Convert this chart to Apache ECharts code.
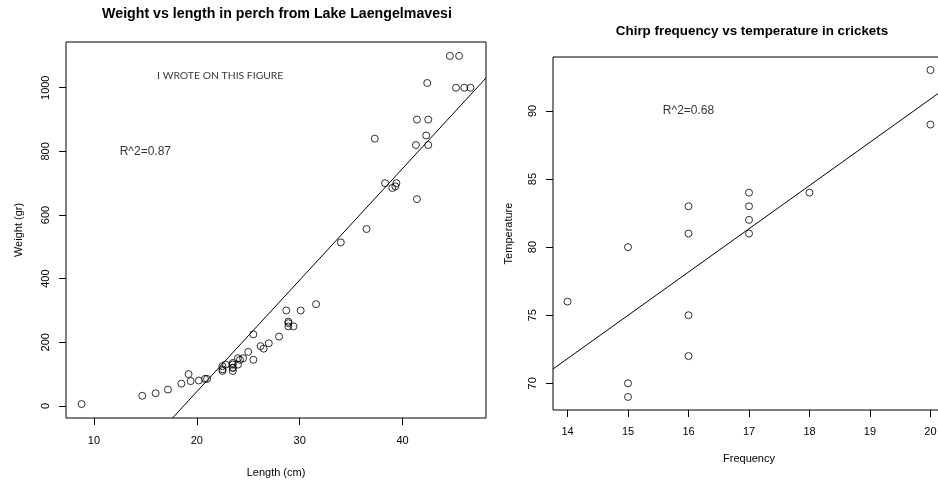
<!DOCTYPE html>
<html><head><meta charset="utf-8">
<script src="https://cdn.jsdelivr.net/npm/echarts@6/dist/echarts.min.js"></script>
<style>html,body{margin:0;padding:0;background:#fff;overflow:hidden;width:938px;height:480px}#c{width:960px;height:480px}</style>
</head><body><div id="c"></div>
<script>
// ---- Perch data (Lake Laengelmavesi) ----
const perchLength = [8.8,14.7,16.0,17.2,18.5,19.2,19.4,20.2,20.8,21.0,22.5,22.5,22.5,22.8,23.5,23.5,23.5,23.5,23.5,24.0,24.0,24.2,24.5,25.0,25.5,25.5,26.2,26.5,27.0,28.0,28.7,28.9,28.9,28.9,29.4,30.1,31.6,34.0,36.5,37.3,39.0,38.3,39.4,39.3,41.4,41.4,41.3,42.3,42.5,42.4,42.5,44.6,45.2,45.5,46.0,46.6];
const perchWeight = [5.9,32,40,51.5,70,100,78,80,85,85,110,115,125,130,120,120,130,135,110,130,150,145,150,170,225,145,188,180,197,218,300,260,265,250,250,300,320,514,556,840,685,700,700,690,900,650,820,850,900,1015,820,1100,1000,1100,1000,1000];
const perchFitX = [17.64, 48.11];
const perchFitY = [-37.9, 1030.5];
const perchXRange = [7.288, 48.112];
const perchYRange = [-37.864, 1143.764];
const perchXTicks = [10,20,30,40];
const perchYTicks = [0,200,400,600,800,1000];
const perchNotes = ['I WROTE ON THIS FIGURE', 'R^2=0.87'];
const perchNoteX = [22.28, 15];
const perchNoteY = [1038, 800];

// ---- Cricket data ----
const chirpFrequency = [14,15,15,15,16,16,16,16,17,17,17,17,18,20,20];
const chirpTemperature = [76,80,70,69,83,81,75,72,84,83,82,81,84,93,89];
const chirpFitX = [13.76, 20.24];
const chirpFitY = [71.05, 91.64];
const chirpXRange = [13.76, 20.24];
const chirpYRange = [68.04, 93.96];
const chirpXTicks = [14,15,16,17,18,19,20];
const chirpYTicks = [70,75,80,85,90];
const chirpNotes = ['R^2=0.68'];
const chirpNoteX = [16];
const chirpNoteY = [90];

const FONT = 'Liberation Sans';
const zip = (a, b) => a.map((v, i) => [v, b[i]]);

function makeAxis(range, ticks, name, gridIndex, isY, nameGap, margin) {
  return {
    type: 'value', gridIndex, min: range[0], max: range[1],
    name, nameLocation: 'middle', nameGap,
    nameTextStyle: { fontFamily: FONT, fontSize: 11, color: '#000' },
    axisLine: { show: false, onZero: false },
    axisTick: { show: true, length: 7, inside: false, customValues: ticks, lineStyle: { color: '#000', width: 1 } },
    axisLabel: { show: true, customValues: ticks, margin, fontFamily: FONT, fontSize: 11, color: '#000',
      rotate: isY ? 90 : 0, formatter: v => String(v) },
    splitLine: { show: false }
  };
}

const hollow = { color: 'rgba(0,0,0,0)', borderColor: '#000', borderWidth: 1 };

function noteSeries(xi, texts, xs, ys, font, size) {
  return {
    type: 'scatter', xAxisIndex: xi, yAxisIndex: xi, silent: true, symbolSize: 0,
    data: texts.map((t, i) => ({ value: [xs[i], ys[i]], name: t })),
    label: { show: true, position: 'inside', formatter: p => p.name, color: '#000', fontFamily: font, fontSize: size }
  };
}

const chart = echarts.init(document.getElementById('c'), null, { renderer: 'canvas' });
chart.setOption({
  animation: false,
  backgroundColor: '#fff',
  title: [
    { text: 'Weight vs length in perch from Lake Laengelmavesi', left: 272, top: 2, textAlign: 'center',
      textStyle: { fontFamily: FONT, fontWeight: 'bold', fontSize: 14.2, color: '#000' } },
    { text: 'Chirp frequency vs temperature in crickets', left: 747, top: 20, textAlign: 'center',
      textStyle: { fontFamily: FONT, fontWeight: 'bold', fontSize: 13.4, color: '#000' } }
  ],
  grid: [
    { left: 66, top: 42, width: 420, height: 376, show: true, borderColor: '#000', borderWidth: 1, backgroundColor: 'transparent', outerBoundsMode: 'none', containLabel: false },
    { left: 553, top: 57, width: 392, height: 353, show: true, borderColor: '#000', borderWidth: 1, backgroundColor: 'transparent', outerBoundsMode: 'none', containLabel: false }
  ],
  xAxis: [
    makeAxis(perchXRange, perchXTicks, 'Length (cm)', 0, false, 49, 17),
    makeAxis(chirpXRange, chirpXTicks, 'Frequency', 1, false, 43, 16.5)
  ],
  yAxis: [
    makeAxis(perchYRange, perchYTicks, 'Weight (gr)', 0, true, 42, 15),
    makeAxis(chirpYRange, chirpYTicks, 'Temperature', 1, true, 39, 15)
  ],
  series: [
    { type: 'scatter', xAxisIndex: 0, yAxisIndex: 0, symbol: 'circle', symbolSize: 7, itemStyle: hollow, data: zip(perchLength, perchWeight) },
    { type: 'line', xAxisIndex: 0, yAxisIndex: 0, symbol: 'none', clip: true, lineStyle: { color: '#000', width: 1 }, data: zip(perchFitX, perchFitY) },
    noteSeries(0, perchNotes.slice(0, 1), perchNoteX.slice(0, 1), perchNoteY.slice(0, 1), 'Lato', 10.4),
    noteSeries(0, perchNotes.slice(1), perchNoteX.slice(1), perchNoteY.slice(1), FONT, 12),
    { type: 'scatter', xAxisIndex: 1, yAxisIndex: 1, symbol: 'circle', symbolSize: 7, itemStyle: hollow, data: zip(chirpFrequency, chirpTemperature) },
    { type: 'line', xAxisIndex: 1, yAxisIndex: 1, symbol: 'none', clip: true, lineStyle: { color: '#000', width: 1 }, data: zip(chirpFitX, chirpFitY) },
    noteSeries(1, chirpNotes, chirpNoteX, chirpNoteY, FONT, 12)
  ]
});
</script></body></html>
